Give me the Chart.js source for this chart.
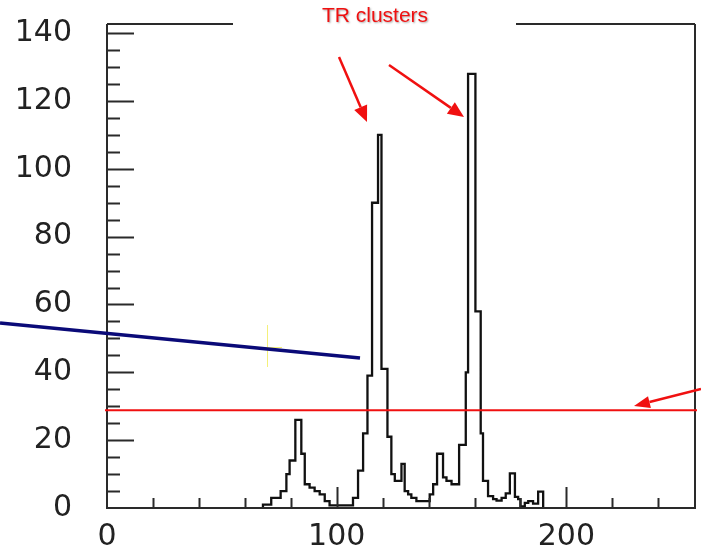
<!DOCTYPE html>
<html>
<head>
<meta charset="utf-8">
<script src="https://cdn.jsdelivr.net/npm/chart.js@4.4.1/dist/chart.umd.min.js"></script>
<style>
  html, body { margin: 0; padding: 0; background: #fff; overflow: hidden; }
  #wrap { width: 701px; height: 548px; }
</style>
</head>
<body>
<div id="wrap"><canvas id="hist" width="701" height="548"></canvas></div>
<script>
// histogram: bin edges and counts per bin
const binEdges = [67.9, 71.5, 75.6, 78.1, 79.5, 82.0, 84.6, 86.1, 88.2, 90.4, 92.6, 94.8, 96.9,
    107.1, 109.3, 111.5, 113.4, 115.4, 118.0, 119.5, 122.1, 123.8, 125.3, 128.2, 129.6, 131.1,
    132.5, 134.7, 140.5, 142.0, 143.7, 146.3, 147.8, 150.0, 153.3, 156.2, 157.2, 160.4, 162.7,
    163.7, 165.9, 168.1, 169.6, 171.8, 173.6, 175.4, 177.6, 179.0, 180.0, 181.9, 183.4, 185.5,
    187.7, 189.9];
const binCounts = [1, 3, 5, 10, 14, 26, 16, 7, 6, 5, 4, 2, 0.8,
    3, 11, 22, 39, 90, 110, 41, 21, 10, 8, 13, 5, 4,
    3, 2, 4, 7, 16, 9, 8, 7, 18.6, 40, 128, 58, 22,
    8, 3.5, 2.6, 2.2, 3, 4.3, 10.2, 3.3, 2.6, 0.5, 1.5, 2, 1.3,
    4.8];
const yTickLabels = [0, 20, 40, 60, 80, 100, 120, 140];
const xTickLabels = [0, 100, 200];
const threshold = 28.8;

const points = [{ x: binEdges[0], y: 0 }];
binCounts.forEach(function(c, i) { points.push({ x: binEdges[i], y: c }); });
points.push({ x: binEdges[binEdges.length - 1], y: 0 });

function arrow(ctx, x1, y1, x2, y2, color, width, headLen, headW) {
    const a = Math.atan2(y2 - y1, x2 - x1);
    const bx = x2 - headLen * Math.cos(a), by = y2 - headLen * Math.sin(a);
    ctx.strokeStyle = color;
    ctx.fillStyle = color;
    ctx.lineWidth = width;
    ctx.beginPath();
    ctx.moveTo(x1, y1);
    ctx.lineTo(bx, by);
    ctx.stroke();
    ctx.beginPath();
    ctx.moveTo(x2, y2);
    ctx.lineTo(bx + headW / 2 * Math.sin(a), by - headW / 2 * Math.cos(a));
    ctx.lineTo(bx - headW / 2 * Math.sin(a), by + headW / 2 * Math.cos(a));
    ctx.closePath();
    ctx.fill();
}

// frame, inward ticks and the slide annotations
const framePlugin = {
    id: 'frame',
    afterDraw: function(chart) {
        const ctx = chart.ctx;
        const a = chart.chartArea;
        const xs = chart.scales.x, ys = chart.scales.y;
        ctx.save();
        ctx.strokeStyle = '#2a2a2a';
        ctx.lineWidth = 2;
        ctx.beginPath();
        ctx.moveTo(a.left, a.top); ctx.lineTo(a.left, a.bottom); ctx.lineTo(a.right, a.bottom); ctx.lineTo(a.right, a.top);
        ctx.moveTo(a.left, a.top); ctx.lineTo(233, a.top);
        ctx.moveTo(516, a.top); ctx.lineTo(a.right, a.top);
        // y ticks: minor every 5, major every 20
        for (let v = 5; v <= 140; v += 5) {
            const y = Math.round(ys.getPixelForValue(v)) + 0.5;
            const len = v % 20 === 0 ? 27 : 13;
            ctx.moveTo(a.left, y); ctx.lineTo(a.left + len, y);
        }
        // x ticks: minor every 20, major every 100
        for (let v = 20; v < 256; v += 20) {
            const x = Math.round(xs.getPixelForValue(v)) + 0.5;
            ctx.moveTo(x, a.bottom); ctx.lineTo(x, a.bottom - 10);
        }
        xTickLabels.forEach(function(v) {
            if (v === 0) return;
            const x = Math.round(xs.getPixelForValue(v)) + 0.5;
            ctx.moveTo(x, a.bottom); ctx.lineTo(x, a.bottom - 21);
        });
        ctx.stroke();

        // title
        ctx.font = '21px "Liberation Sans", Arial, sans-serif';
        ctx.textAlign = 'center';
        ctx.textBaseline = 'alphabetic';
        ctx.shadowColor = 'rgba(0,0,0,0.35)';
        ctx.shadowOffsetX = 1; ctx.shadowOffsetY = 1; ctx.shadowBlur = 2;
        ctx.fillStyle = '#f01010';
        ctx.fillText('TR clusters', 375, 22);
        ctx.shadowColor = 'transparent';

        arrow(ctx, 339, 57, 367, 122, '#f01010', 2.5, 16, 14);
        arrow(ctx, 389, 65, 464, 117, '#f01010', 2.5, 16, 14);

        // threshold line
        const ty = ys.getPixelForValue(threshold);
        ctx.strokeStyle = '#f01010';
        ctx.lineWidth = 2;
        ctx.beginPath();
        ctx.moveTo(105, ty); ctx.lineTo(697, ty);
        ctx.stroke();
        arrow(ctx, 701, 389, 634, 406, '#f01010', 2.5, 16, 12);

        // yellow marker and navy pointer line
        ctx.strokeStyle = '#f4f07a';
        ctx.lineWidth = 1;
        ctx.beginPath();
        ctx.moveTo(267.5, 325); ctx.lineTo(267.5, 367);
        ctx.moveTo(263, 347.5); ctx.lineTo(282, 347.5);
        ctx.stroke();
        ctx.strokeStyle = '#0a0a78';
        ctx.lineWidth = 3.5;
        ctx.beginPath();
        ctx.moveTo(0, 323); ctx.lineTo(360, 358);
        ctx.stroke();
        ctx.restore();
    }
};

const tickFont = { family: '"DejaVu Sans", sans-serif', size: 30 };

function noOverhang(s) {
    s.paddingTop = 0; s.paddingBottom = 0; s.paddingLeft = 0; s.paddingRight = 0;
}

new Chart(document.getElementById('hist').getContext('2d'), {
    type: 'line',
    data: {
        datasets: [{
            data: points,
            stepped: 'before',
            borderColor: '#111',
            borderWidth: 2.3,
            pointRadius: 0,
            fill: false
        }]
    },
    options: {
        responsive: false,
        animation: false,
        layout: { padding: { top: 24, right: 6, left: 0, bottom: 0 } },
        plugins: { legend: { display: false }, tooltip: { enabled: false } },
        scales: {
            x: {
                type: 'linear',
                min: 0,
                max: 256,
                grid: { display: false, drawTicks: false },
                border: { display: false },
                afterBuildTicks: function(s) { s.ticks = xTickLabels.map(function(v) { return { value: v }; }); },
                afterFit: function(s) { s.height = 40; noOverhang(s); },
                ticks: { font: tickFont, color: '#222', padding: 11, maxRotation: 0, autoSkip: false }
            },
            y: {
                min: 0,
                max: 142.7,
                grid: { display: false, drawTicks: false },
                border: { display: false },
                afterBuildTicks: function(s) { s.ticks = yTickLabels.map(function(v) { return { value: v }; }); },
                afterFit: function(s) { s.width = 107; noOverhang(s); },
                ticks: { font: tickFont, color: '#222', padding: 35, autoSkip: false }
            }
        }
    },
    plugins: [framePlugin]
});
</script>
</body>
</html>
